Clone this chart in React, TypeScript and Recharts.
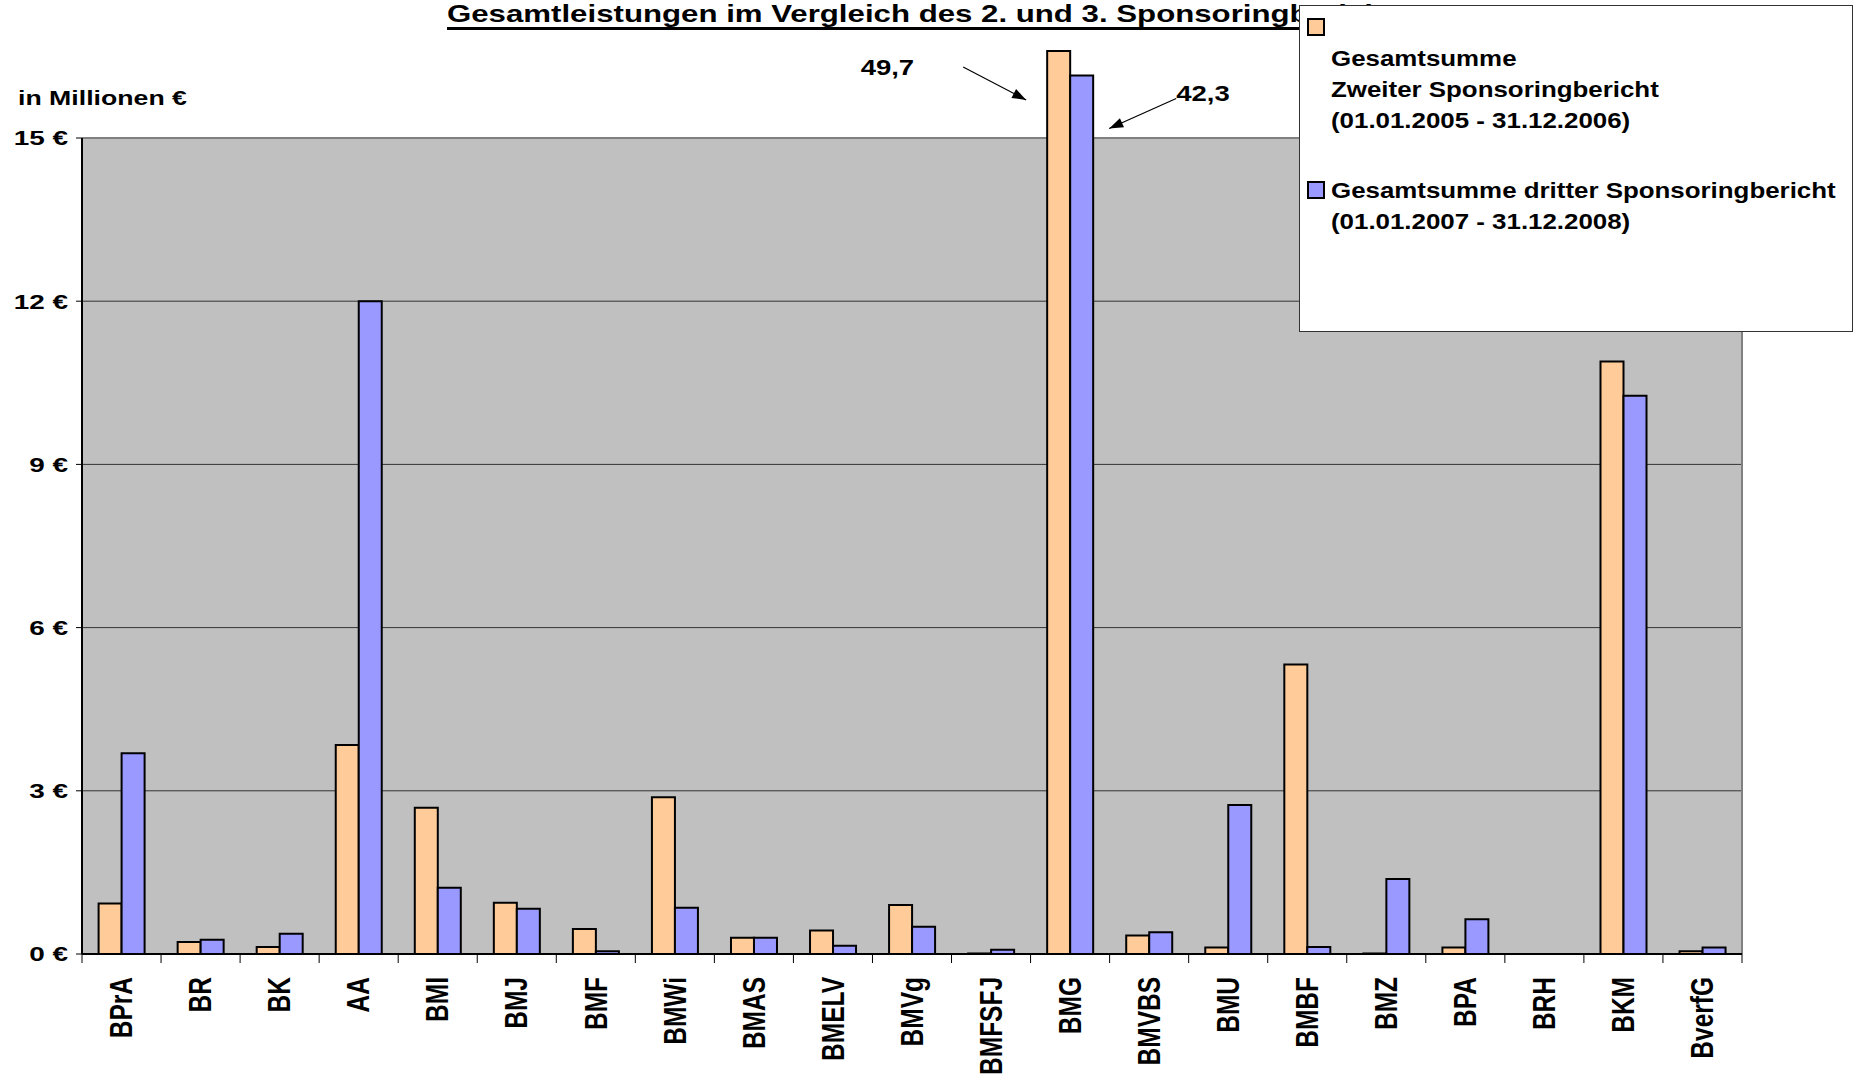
import React from "react"
import { BarChart, Bar, XAxis, YAxis, CartesianGrid, Legend, LabelList, ReferenceLine } from "recharts"

const categories = [
  "BPrA", "BR", "BK", "AA", "BMI", "BMJ", "BMF", "BMWi", "BMAS", "BMELV", "BMVg",
  "BMFSFJ", "BMG", "BMVBS", "BMU", "BMBF", "BMZ", "BPA", "BRH", "BKM", "BverfG",
]

// in Mio. € - BMG is drawn cut off above the plot, the real totals are in cutTotals
const secondReport = [
  0.93, 0.22, 0.13, 3.84, 2.69, 0.94, 0.46, 2.88, 0.3, 0.43, 0.9,
  0.01, 16.6, 0.34, 0.12, 5.32, 0.01, 0.12, 0, 10.89, 0.05,
]
const thirdReport = [
  3.69, 0.26, 0.37, 12.0, 1.22, 0.83, 0.05, 0.85, 0.3, 0.15, 0.5,
  0.08, 16.15, 0.4, 2.74, 0.13, 1.38, 0.64, 0, 10.26, 0.12,
]

const yTicks = [0, 3, 6, 9, 12, 15]
const cutCategory = "BMG"
const cutTotals = ["49,7", "42,3"]

const legendNames = [
  ["", "Gesamtsumme", "Zweiter Sponsoringbericht", "(01.01.2005 - 31.12.2006)"],
  ["Gesamtsumme dritter Sponsoringbericht", "(01.01.2007 - 31.12.2008)"],
]

const FONT = '"Liberation Sans", Arial, sans-serif'
const ORANGE = "#FFCC99"
const BLUE = "#9999FF"
const PLOT_GRAY = "#C0C0C0"

const data = categories.map((name, i) => ({
  name,
  second: secondReport[i],
  third: thirdReport[i],
  secondNote: name === cutCategory ? cutTotals[0] : undefined,
  thirdNote: name === cutCategory ? cutTotals[1] : undefined,
}))

const YTick = (props: any) => {
  const { x, y, payload } = props
  return (
    <text
      transform={`translate(${x - 8},${y}) scale(1.33,1)`}
      textAnchor="end"
      dy="0.35em"
      fontFamily={FONT}
      fontWeight={700}
      fontSize={21}
      fill="#000"
    >
      {`${payload.value} €`}
    </text>
  )
}

const XTick = (props: any) => {
  const { x, y, payload, index, visibleTicksCount } = props
  const half = payload.offset ?? 0
  const last = index === visibleTicksCount - 1
  return (
    <g>
      <line x1={x - half} x2={x - half} y1={y - 9} y2={y} stroke="#000" strokeWidth={1} />
      {last && <line x1={x + half} x2={x + half} y1={y - 9} y2={y} stroke="#000" strokeWidth={1} />}
      <text
        transform={`translate(${x},${y + 14}) scale(1.25,1) rotate(-90)`}
        textAnchor="end"
        dy="0.35em"
        fontFamily={FONT}
        fontWeight={700}
        fontSize={24.5}
        fill="#000"
      >
        {payload.value}
      </text>
    </g>
  )
}

// top grid line (15 €) is the grey plot border, the others are dark
const GridLine = (props: any) => {
  const { x1, y1, x2, y2, index } = props
  const top = index === yTicks.length - 1
  return (
    <line
      x1={x1}
      y1={y1}
      x2={x2}
      y2={y2}
      stroke={top ? "#808080" : "#333"}
      strokeWidth={top ? 2 : 1}
    />
  )
}

const arrowHead = (x1: number, y1: number, x2: number, y2: number) => {
  const a = Math.atan2(y2 - y1, x2 - x1)
  const len = 14
  const w = 5
  const bx = x2 - len * Math.cos(a)
  const by = y2 - len * Math.sin(a)
  const px = -Math.sin(a) * w
  const py = Math.cos(a) * w
  return `${x2},${y2} ${bx + px},${by + py} ${bx - px},${by - py}`
}

// note with an arrow pointing at the cut-off bar
const renderNote = (side: "left" | "right") => (props: any) => {
  const { value } = props
  if (value == null || value === "") return null
  const vb = props.viewBox && typeof props.viewBox.x === "number" ? props.viewBox : props
  const { x, y, width } = vb
  let tx, ty, ax1, ay1, ax2, ay2, anchor
  if (side === "left") {
    tx = x - 133; ty = y + 24; anchor = "end"
    ax1 = x - 84; ay1 = y + 16; ax2 = x - 21; ay2 = y + 49
  } else {
    const r = x + width
    tx = r + 83; ty = y + 26; anchor = "start"
    ax1 = r + 83; ay1 = y + 23; ax2 = r + 16; ay2 = y + 53
  }
  return (
    <g>
      <text
        transform={`translate(${tx},${ty}) scale(1.25,1)`}
        textAnchor={anchor}
        fontFamily={FONT}
        fontWeight={700}
        fontSize={22}
        fill="#000"
      >
        {value}
      </text>
      <line x1={ax1} y1={ay1} x2={ax2} y2={ay2} stroke="#000" strokeWidth={1.2} />
      <polygon points={arrowHead(ax1, ay1, ax2, ay2)} fill="#000" />
    </g>
  )
}

const renderLegend = (props: any) => {
  const items = props.payload ?? []
  return (
    <div
      style={{
        boxSizing: "border-box",
        width: 554,
        height: 327,
        background: "#fff",
        border: "1px solid #333",
        paddingTop: 6,
        fontFamily: FONT,
        fontWeight: 700,
        fontSize: 22.5,
        color: "#000",
        textAlign: "left",
      }}
    >
      {items.map((item: any, i: number) => {
        const lines = String(item.value).split("\n")
        return (
          <div key={i} style={{ position: "relative", marginTop: i === 0 ? 0 : 39 }}>
            <div
              style={{
                position: "absolute",
                left: 7,
                top: 6,
                width: 18,
                height: 18,
                boxSizing: "border-box",
                border: "2px solid #000",
                background: item.color,
              }}
            />
            {lines.map((line, j) => (
              <div key={j} style={{ height: 31, lineHeight: "31px", paddingLeft: 31, whiteSpace: "pre" }}>
                <span style={{ display: "inline-block", transform: "scaleX(1.15)", transformOrigin: "left" }}>
                  {line}
                </span>
              </div>
            ))}
          </div>
        )
      })}
    </div>
  )
}

export default function App() {
  return (
    <div style={{ position: "absolute", left: 0, top: 0, width: 1854, height: 1081, background: "#fff", fontFamily: FONT }}>
      <div
        style={{
          position: "absolute",
          left: 447,
          top: 2,
          fontSize: 24,
          lineHeight: "24px",
          fontWeight: 700,
          whiteSpace: "nowrap",
          textDecoration: "underline",
          textDecorationThickness: 3,
          textUnderlineOffset: 5,
          transform: "scaleX(1.3)",
          transformOrigin: "left",
        }}
      >
        Gesamtleistungen im Vergleich des 2. und 3. Sponsoringberichts
      </div>
      <div
        style={{
          position: "absolute",
          left: 18,
          top: 87,
          fontSize: 21,
          lineHeight: "21px",
          fontWeight: 700,
          whiteSpace: "nowrap",
          transform: "scaleX(1.27)",
          transformOrigin: "left",
        }}
      >
        in Millionen €
      </div>
      <BarChart
        width={1854}
        height={1081}
        data={data}
        margin={{ top: 2, right: 112, bottom: 7, left: 0 }}
        barCategoryGap="21%"
        barGap={0}
      >
        <CartesianGrid
          vertical={false}
          syncWithTicks
          horizontal={(p: any) => <GridLine key={p.key} {...p} />}
          horizontalFill={["none", PLOT_GRAY, PLOT_GRAY, PLOT_GRAY, PLOT_GRAY, PLOT_GRAY, PLOT_GRAY]}
          fillOpacity={1}
        />
        <XAxis
          dataKey="name"
          height={120}
          interval={0}
          tickSize={9}
          tickMargin={0}
          tickLine={false}
          axisLine={{ stroke: "#000", strokeWidth: 2 }}
          tick={<XTick />}
        />
        <YAxis
          width={82}
          domain={[0, 17.5]}
          ticks={yTicks}
          interval={0}
          tickSize={6}
          tickMargin={0}
          axisLine={false}
          tickLine={{ stroke: "#000" }}
          tick={<YTick />}
        />
        <ReferenceLine
          segment={[{ x: categories[0], y: 0 }, { x: categories[0], y: 15 }]}
          position="start"
          stroke="#000"
          strokeWidth={2}
        />
        <ReferenceLine
          segment={[
            { x: categories[categories.length - 1], y: 0 },
            { x: categories[categories.length - 1], y: 15 },
          ]}
          position="end"
          stroke="#808080"
          strokeWidth={2}
        />
        <Legend
          layout="vertical"
          align="center"
          verticalAlign="middle"
          wrapperStyle={{ left: 1299, top: 5, width: 554, height: 327 }}
          content={renderLegend}
        />
        <Bar
          dataKey="second"
          name={legendNames[0].join("\n")}
          fill={ORANGE}
          stroke="#000"
          strokeWidth={2}
          isAnimationActive={false}
        >
          <LabelList dataKey="secondNote" content={renderNote("left")} />
        </Bar>
        <Bar
          dataKey="third"
          name={legendNames[1].join("\n")}
          fill={BLUE}
          stroke="#000"
          strokeWidth={2}
          isAnimationActive={false}
        >
          <LabelList dataKey="thirdNote" content={renderNote("right")} />
        </Bar>
      </BarChart>
    </div>
  )
}
